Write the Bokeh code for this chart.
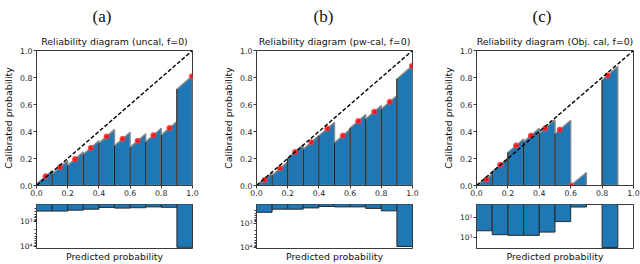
import math
from bokeh.plotting import figure
from bokeh.layouts import row, column
from bokeh.models import (Range1d, FixedTicker, PrintfTickFormatter, Title,
                          LinearAxis, Slope)
from bokeh.embed import file_html
from bokeh.resources import INLINE

NAN = float("nan")

# ---------------- data ----------------
bin_edges = [0.0, 0.1, 0.2, 0.3, 0.4, 0.5, 0.6, 0.7, 0.8, 0.9, 1.0]
prob_ticks = [0.0, 0.2, 0.4, 0.6, 0.8, 1.0]

panel_labels = ["(a)", "(b)", "(c)"]
panel_titles = ["Reliability diagram (uncal, f=0)",
                "Reliability diagram (pw-cal, f=0)",
                "Reliability diagram (Obj. cal, f=0)"]

# mean predicted probability / observed frequency per bin
pred_a = [0.058, 0.150, 0.247, 0.348, 0.449, 0.551, 0.648, 0.749, 0.852, 0.996]
acc_a = [0.069, 0.135, 0.196, 0.279, 0.363, 0.346, 0.331, 0.373, 0.426, 0.809]
count_a = [370, 370, 340, 310, 263, 280, 270, 250, 260, 11000]

pred_b = [0.052, 0.151, 0.247, 0.351, 0.454, 0.553, 0.652, 0.755, 0.854, 0.996]
acc_b = [0.042, 0.127, 0.248, 0.321, 0.422, 0.370, 0.478, 0.547, 0.620, 0.885]
count_b = [363, 270, 270, 240, 210, 218, 218, 251, 316, 9100]

pred_c = [0.062, 0.151, 0.252, 0.346, 0.437, 0.530, 0.604, NAN, 0.835, NAN]
acc_c = [0.044, 0.154, 0.297, 0.370, 0.424, 0.414, 0.000, NAN, 0.816, NAN]
count_c = [200, 480, 560, 560, 270, 26, 1, 0, 8300, 0]

# histogram (inverted log) axis limits: (bottom value, top value)
hist_lim_a = (12300, 200)
hist_lim_b = (11000, 174)
hist_lim_c = (10500, 0.57)

hist_ticks_ab = [1000, 10000]
hist_labels_ab = ["10\u00b3", "10\u2074"]
hist_minor_ab = [300, 400, 500, 600, 700, 800, 900,
                 2000, 3000, 4000, 5000, 6000, 7000, 8000, 9000]
hist_ticks_c = [10, 1000]
hist_labels_c = ["10\u00b9", "10\u00b3"]
hist_minor_c = []

BLUE = "#1f77b4"
FONT = "DejaVu Sans"
EDGE = "#3a3a3a"


def style_axis(ax, size="7.8px"):
    ax.major_label_text_font = FONT
    ax.major_label_text_font_size = size
    ax.major_label_text_color = "#222222"
    ax.axis_line_color = EDGE
    ax.major_tick_line_color = EDGE
    ax.major_tick_out = 3
    ax.major_tick_in = 0
    ax.minor_tick_line_color = None
    ax.major_label_standoff = 1
    ax.axis_label_text_font = FONT
    ax.axis_label_text_font_size = "9.4px"
    ax.axis_label_text_font_style = "normal"
    ax.axis_label_text_color = "#111111"


def make_panel(k, pred, acc, counts, hlim, hticks, hlabels, hminor, fig_w, border_r, lab_off):
    LB = 32
    main = figure(width=fig_w, height=199, x_range=Range1d(0, 1), y_range=Range1d(0, 1),
                  output_backend="svg", toolbar_location=None,
                  min_border_left=LB, min_border_right=border_r,
                  min_border_top=50, min_border_bottom=14)
    main.grid.visible = False
    main.outline_line_color = EDGE
    main.outline_line_width = 1
    main.background_fill_color = "white"

    main.add_layout(Title(text=panel_titles[k], align="center", text_font=FONT,
                          text_font_size="9.4px", text_font_style="normal",
                          text_color="#111111", standoff=8), "above")
    main.add_layout(Title(text=panel_labels[k], align="left", offset=lab_off,
                          text_font="Liberation Serif", text_font_size="17px",
                          text_font_style="normal", text_color="#111111",
                          standoff=8), "above")

    xs, ys, vx, vy = [], [], [], []
    px, py = [], []
    for i in range(len(pred)):
        if math.isnan(pred[i]):
            continue
        x0, x1 = bin_edges[i], bin_edges[i + 1]
        y0 = max(0.0, acc[i] - (pred[i] - x0))
        y1 = acc[i] + (x1 - pred[i])
        xs.append([x0, x0, x1, x1])
        ys.append([0, y0, y1, 0])
        vx.append([x0, x0])
        vy.append([0, y0])
        px.append(pred[i])
        py.append(acc[i])
    main.patches(xs, ys, fill_color=BLUE, line_color="#8a8a8a", line_width=1.4)
    main.multi_line(vx, vy, line_color="#1a1a1a", line_width=1)
    main.add_layout(Slope(gradient=1, y_intercept=0, line_color="black",
                          line_dash="4 2", line_width=1.4))
    main.scatter(px, py, size=5, fill_color="red", fill_alpha=0.8,
                 line_color="#ff4040", line_width=1)

    main.xaxis.ticker = FixedTicker(ticks=prob_ticks)
    main.yaxis.ticker = FixedTicker(ticks=prob_ticks)
    main.xaxis.formatter = PrintfTickFormatter(format="%.1f")
    main.yaxis.formatter = PrintfTickFormatter(format="%.1f")
    style_axis(main.xaxis[0])
    style_axis(main.yaxis[0])
    main.yaxis.axis_label = "Calibrated probability"
    main.yaxis.axis_label_standoff = 3

    hist = figure(width=fig_w, height=65, x_range=main.x_range,
                  y_axis_type="log", y_range=Range1d(hlim[0], hlim[1]),
                  x_axis_location=None,
                  output_backend="svg", toolbar_location=None,
                  min_border_left=LB, min_border_right=border_r,
                  min_border_top=5, min_border_bottom=15)
    hist.grid.visible = False
    hist.outline_line_color = EDGE
    lefts, rights, tops, bots = [], [], [], []
    for i, c in enumerate(counts):
        if c <= 0:
            continue
        lefts.append(bin_edges[i])
        rights.append(bin_edges[i + 1])
        tops.append(c)
        bots.append(hlim[1] / 10.0)
    hist.quad(left=lefts, right=rights, top=tops, bottom=bots,
              fill_color=BLUE, line_color="#2a2a2a", line_width=1)

    style_axis(hist.yaxis[0], size="7.5px")
    hist.yaxis.ticker = FixedTicker(ticks=hticks, minor_ticks=hminor)
    hist.yaxis.major_label_overrides = {float(t): l for t, l in zip(hticks, hlabels)}
    hist.yaxis.minor_tick_line_color = EDGE
    hist.yaxis.minor_tick_out = 2
    hist.yaxis.minor_tick_in = 0

    below = LinearAxis(ticker=FixedTicker(ticks=[]), axis_label="Predicted probability")
    style_axis(below)
    below.axis_line_color = None
    below.major_tick_line_color = None
    below.major_tick_out = 0
    below.major_label_standoff = 0
    below.axis_label_standoff = 2
    hist.add_layout(below, "below")

    return column(main, hist, spacing=0)


pa = make_panel(0, pred_a, acc_a, count_a, hist_lim_a, hist_ticks_ab, hist_labels_ab,
                hist_minor_ab, 220, 28, 56)
pb = make_panel(1, pred_b, acc_b, count_b, hist_lim_b, hist_ticks_ab, hist_labels_ab,
                hist_minor_ab, 220, 28, 57)
pc = make_panel(2, pred_c, acc_c, count_c, hist_lim_c, hist_ticks_c, hist_labels_c,
                hist_minor_c, 200, 7, 56)

layout = row(pa, pb, pc, spacing=0)

open("out.html", "w").write(file_html(layout, INLINE))
